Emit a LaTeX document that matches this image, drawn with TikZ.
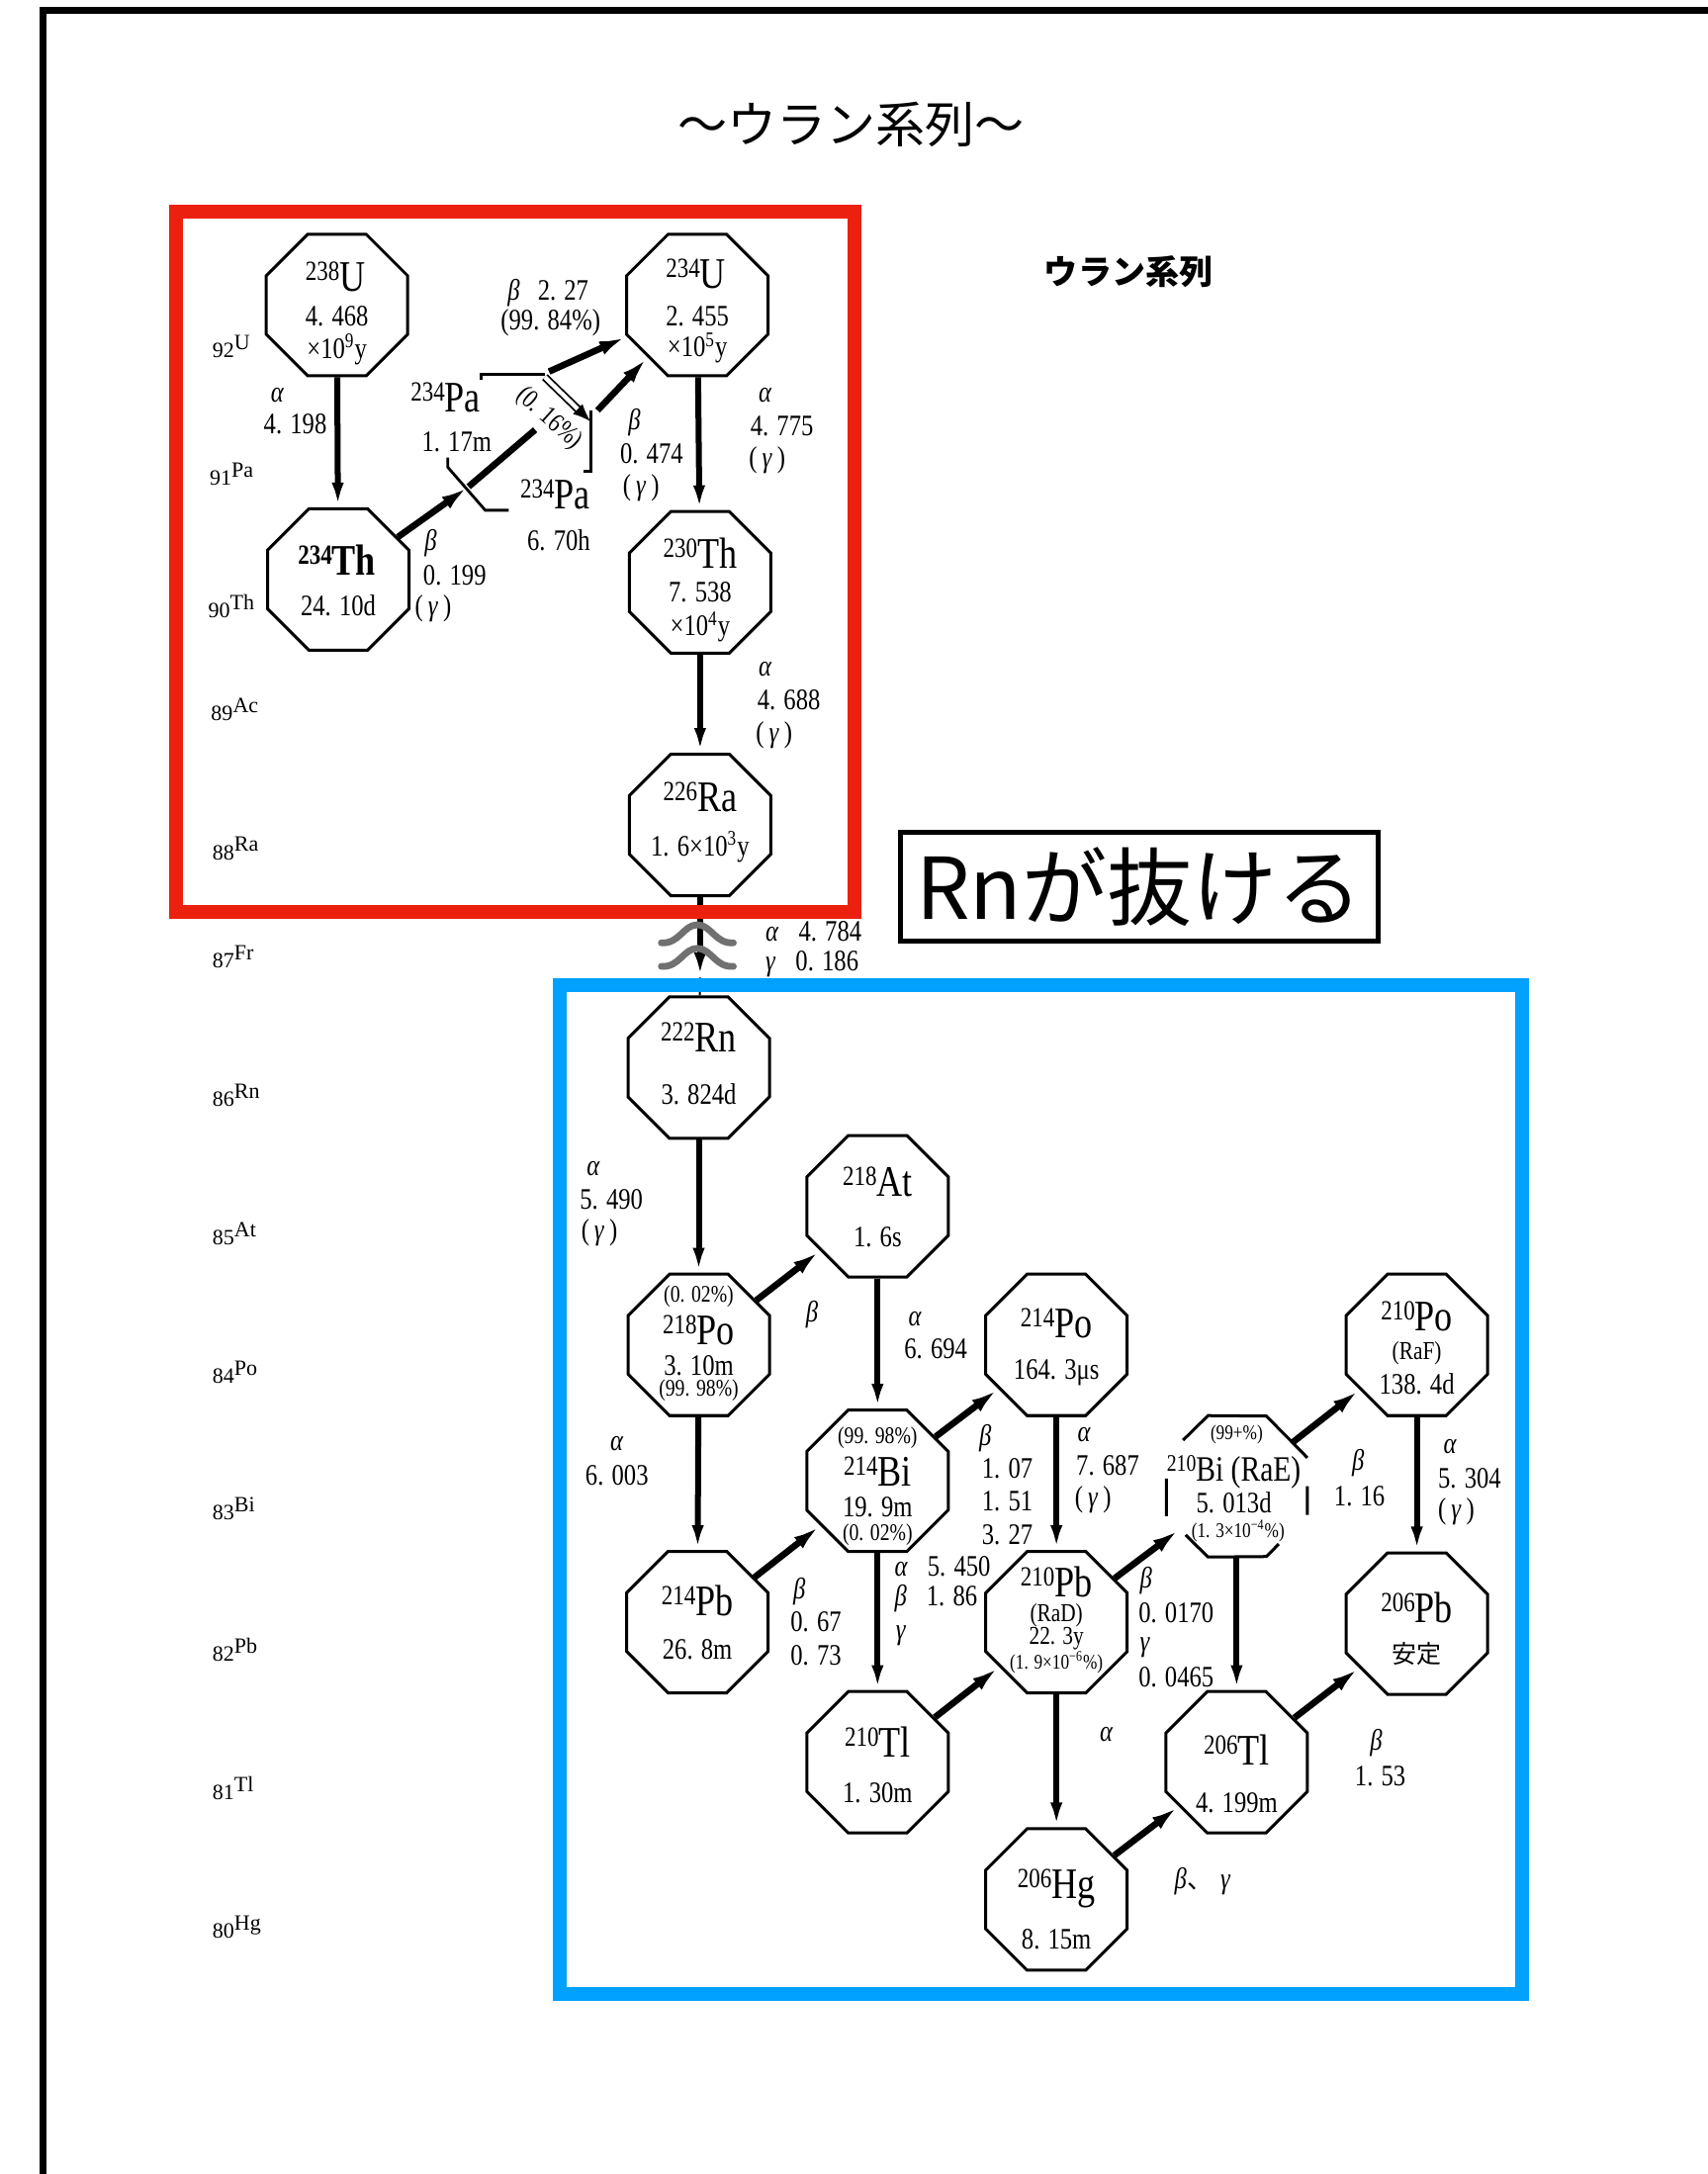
\documentclass[tikz,border=0pt]{standalone}
\usepackage{fontspec}
\setmainfont{Liberation Serif}[FakeStretch=0.82]
\newfontfamily\jp{Noto Sans CJK JP}
\newfontfamily\rowf{Liberation Serif}
\usetikzlibrary{shapes.geometric,arrows.meta,calc}
\definecolor{redbox}{RGB}{236,32,14}
\definecolor{bluebox}{RGB}{0,161,255}
\definecolor{wavegray}{RGB}{112,112,112}
\newcommand\isoA[2]{\raisebox{5.5pt}{\fontsize{14}{14}\selectfont #1}{\fontsize{22}{22}\selectfont #2}}
\newcommand\isoS[2]{\raisebox{5pt}{\fontsize{12}{12}\selectfont #1}{\fontsize{18}{18}\selectfont #2}}
\newcommand\rowlab[2]{{\rowf\fontsize{11}{11}\selectfont #1\raisebox{4pt}{#2}}}
\newcommand\lalpha{\textit{α}}
\newcommand\lbeta{\textit{β}}
\newcommand\lgamma{\textit{γ}}
\begin{document}
\begin{tikzpicture}[x=0.7pt,y=-0.7pt,
  oct/.style={regular polygon, regular polygon sides=8, minimum size=77.3pt, inner sep=0pt, draw, line width=1.5pt},
  octh/.style={regular polygon, regular polygon sides=8, minimum size=77.3pt, inner sep=0pt, outer sep=0pt},
  sym/.style={inner sep=0pt, anchor=base},
  num/.style={inner sep=0pt, font=\fontsize{15}{15}\selectfont},
  mid/.style={inner sep=0pt, font=\fontsize{13}{13}\selectfont},
  pct/.style={inner sep=0pt, font=\fontsize{12}{12}\selectfont},
  tinyt/.style={inner sep=0pt, font=\fontsize{10.5}{10.5}\selectfont},
  lab/.style={inner sep=0pt, anchor=west, font=\fontsize{15}{15}\selectfont},
  rowl/.style={inner sep=0pt, anchor=west},
  arr/.style={line width=3pt, -{Latex[length=12.5pt,width=6pt]}},
  darr/.style={line width=3.3pt, -{Latex[length=14pt,width=7pt]}},
  brk/.style={line width=1.4pt},
  dbl/.style={line width=0.9pt, double distance=2.2pt, -{Latex[length=9pt,width=7pt]}},
  wave/.style={wavegray, line width=3.4pt, line cap=round}]
\useasboundingbox (0,0) rectangle (1232,1568);
\fill[white] (0,0) rectangle (1232,1568);

% titles
\node (title) at (614,90) {\jp\fontsize{25}{25}\selectfont ～ウラン系列～};
\node (sub) at (814,196) {\jp\bfseries\fontsize{17}{17}\selectfont ウラン系列};

% row labels
\node[rowl] (z92) at (153,250) {\rowlab{92}{U}};
\node[rowl] (z91) at (151,342) {\rowlab{91}{Pa}};
\node[rowl] (z90) at (150,437) {\rowlab{90}{Th}};
\node[rowl] (z89) at (152,512) {\rowlab{89}{Ac}};
\node[rowl] (z88) at (153,612) {\rowlab{88}{Ra}};
\node[rowl] (z87) at (153,690) {\rowlab{87}{Fr}};
\node[rowl] (z86) at (153,790) {\rowlab{86}{Rn}};
\node[rowl] (z85) at (153,890) {\rowlab{85}{At}};
\node[rowl] (z84) at (153,990) {\rowlab{84}{Po}};
\node[rowl] (z83) at (153,1088) {\rowlab{83}{Bi}};
\node[rowl] (z82) at (153,1190) {\rowlab{82}{Pb}};
\node[rowl] (z81) at (153,1290) {\rowlab{81}{Tl}};
\node[rowl] (z80) at (153,1390) {\rowlab{80}{Hg}};

% octagons
\node[oct] (U238) at (243,220) {};
\node[oct] (U234) at (503,220) {};
\node[oct] (Th234) at (244,418) {};
\node[oct] (Th230) at (505,420) {};
\node[oct] (Ra226) at (505,595) {};
\node[oct] (Rn222) at (504,770) {};
\node[oct] (At218) at (633,870) {};
\node[oct] (Po218) at (504,970) {};
\node[oct] (Po214) at (762,970) {};
\node[oct] (Bi214) at (633,1068) {};
\node[oct] (Pb214) at (503,1170) {};
\node[oct] (Pb210) at (762,1170) {};
\node[oct] (Tl210) at (633,1271) {};
\node[oct] (Hg206) at (762,1370) {};
\node[octh] (Bi210) at (892,1072) {};
\node[oct] (Po210) at (1022,970) {};
\node[oct] (Pb206) at (1022,1171) {};
\node[oct] (Tl206) at (892,1271) {};

% partial outline of 210Bi
\draw[line width=1.5pt] ($(Bi210.112.5)!0.6!(Bi210.157.5)$) -- (Bi210.112.5) -- (Bi210.67.5) -- (Bi210.22.5);
\draw[line width=1.5pt] ($(Bi210.22.5)!0.5!(Bi210.-22.5)$) -- (Bi210.-22.5);
\draw[line width=1.5pt] ($(Bi210.-22.5)!0.7!(Bi210.-67.5)$) -- (Bi210.-67.5) -- (Bi210.-112.5) -- ($(Bi210.-112.5)!0.54!(Bi210.-157.5)$);
\draw[line width=1.5pt] ($(Bi210.157.5)!0.37!(Bi210.-157.5)$) -- (Bi210.-157.5);

% texts inside octagons
\node[sym] (U238s) at (242,210) {\isoA{238}{U}};
\node[num] (U238h) at (243,228) {4. 468};
\node[num] (U238e) at (243,252) {×10\textsuperscript{9}y};
\node[sym] (U234s) at (502,208) {\isoA{234}{U}};
\node[num] (U234h) at (503,228) {2. 455};
\node[num] (U234e) at (503,251) {×10\textsuperscript{5}y};
\node[sym] (Th234s) at (243,415) {\bfseries\isoA{234}{Th}};
\node[num] (Th234h) at (244,437) {24. 10d};
\node[sym] (Th230s) at (505,410) {\isoA{230}{Th}};
\node[num] (Th230h) at (505,427) {7. 538};
\node[num] (Th230e) at (505,452) {×10\textsuperscript{4}y};
\node[sym] (Ra226s) at (505,585) {\isoA{226}{Ra}};
\node[num] (Ra226h) at (505,611) {1. 6×10\textsuperscript{3}y};
\node[sym] (Rn222s) at (504,759) {\isoA{222}{Rn}};
\node[num] (Rn222h) at (504,789) {3. 824d};
\node[sym] (At218s) at (633,863) {\isoA{218}{At}};
\node[num] (At218h) at (633,892) {1. 6s};
\node[pct] (Po218a) at (504,935) {(0. 02\%)};
\node[sym] (Po218s) at (504,970) {\isoA{218}{Po}};
\node[num] (Po218h) at (504,985) {3. 10m};
\node[pct] (Po218b) at (504,1003) {(99. 98\%)};
\node[sym] (Po214s) at (762,965) {\isoA{214}{Po}};
\node[num] (Po214h) at (762,990) {164. 3μs};
\node[pct] (Bi214a) at (633,1037) {(99. 98\%)};
\node[sym] (Bi214s) at (633,1072) {\isoA{214}{Bi}};
\node[num] (Bi214h) at (633,1087) {19. 9m};
\node[pct] (Bi214b) at (633,1107) {(0. 02\%)};
\node[sym] (Pb214s) at (503,1165) {\isoA{214}{Pb}};
\node[num] (Pb214h) at (503,1190) {26. 8m};
\node[sym] (Pb210s) at (762,1152) {\isoA{210}{Pb}};
\node[mid] (Pb210a) at (762,1165) {(RaD)};
\node[mid] (Pb210h) at (762,1182) {22. 3y};
\node[tinyt] (Pb210b) at (762,1199) {(1. 9×10\textsuperscript{−6}\%)};
\node[sym] (Tl210s) at (633,1267) {\isoA{210}{Tl}};
\node[num] (Tl210h) at (633,1293) {1. 30m};
\node[sym] (Hg206s) at (762,1369) {\isoA{206}{Hg}};
\node[num] (Hg206h) at (762,1399) {8. 15m};
\node[tinyt] (Bi210a) at (892,1035) {(99+\%)};
\node[sym] (Bi210s) at (890,1068) {\isoS{210}{Bi (RaE)}};
\node[num] (Bi210h) at (890,1084) {5. 013d};
\node[tinyt] (Bi210b) at (893,1104) {(1. 3×10\textsuperscript{−4}\%)};
\node[sym] (Po210s) at (1022,960) {\isoA{210}{Po}};
\node[mid] (Po210a) at (1022,976) {(RaF)};
\node[num] (Po210h) at (1022,998) {138. 4d};
\node[sym] (Pb206s) at (1022,1170) {\isoA{206}{Pb}};
\node (Pb206h) at (1022,1193) {\jp\fontsize{12.5}{12.5}\selectfont 安定};
\node[sym] (Tl206s) at (892,1273) {\isoA{206}{Tl}};
\node[num] (Tl206h) at (892,1300) {4. 199m};

% protactinium branch
\node[sym, anchor=base west] (Pa1s) at (296,297) {\isoA{234}{Pa}};
\node[lab] (Pa1h) at (304,319) {1. 17m};
\node[sym, anchor=base west] (Pa2s) at (375,367) {\isoA{234}{Pa}};
\node[lab] (Pa2h) at (380,390) {6. 70h};
\coordinate (paX) at (338,351);
\coordinate (paE) at (386,310);
\draw[darr] (Th234) -- (paX);
\draw[line width=3.3pt] (paX) -- (paE);
\coordinate (ub1) at (347,274);
\coordinate (ub2) at (347,270);
\coordinate (ub3) at (393,270);
\draw[brk] (ub1) -- (ub2) -- (ub3);
\coordinate (paU) at (396,268);
\draw[darr] (paU) -- (U234);
\coordinate (dbA) at (393,272);
\coordinate (dbB) at (426,304);
\draw[dbl] (dbA) -- (dbB);
\coordinate (rb1) at (426,296);
\coordinate (rb2) at (426,340);
\coordinate (rb3) at (421,340);
\draw[brk] (rb1) -- (rb2) -- (rb3);
\coordinate (paV) at (431,296);
\draw[darr] (paV) -- (U234);
\coordinate (lb1) at (323,330);
\coordinate (lb2) at (323,337);
\coordinate (lb3) at (350,368);
\coordinate (lb4) at (367,368);
\draw[brk] (lb1) -- (lb2) -- (lb3) -- (lb4);
\node[inner sep=0pt, rotate=-42, font=\fontsize{13.5}{13.5}\selectfont] (p016) at (396,302) {(0. 16\%)};

% decay arrows
\draw[arr] (U238) -- (Th234);
\draw[arr] (U234) -- (Th230);
\draw[arr] (Th230) -- (Ra226);
\coordinate (RnIn) at (505,705);
\draw[arr] (Ra226) -- (RnIn);
\draw[line width=1pt] (RnIn) -- (Rn222);
\draw[arr] (Rn222) -- (Po218);
\draw[darr] (Po218) -- (At218);
\draw[arr] (At218) -- (Bi214);
\draw[arr] (Po218) -- (Pb214);
\draw[darr] (Pb214) -- (Bi214);
\draw[darr] (Bi214) -- (Po214);
\draw[arr] (Bi214) -- (Tl210);
\draw[arr] (Po214) -- (Pb210);
\draw[darr] (Tl210) -- (Pb210);
\draw[darr] (Pb210) -- (Bi210);
\draw[arr] (Pb210) -- (Hg206);
\draw[darr] (Hg206) -- (Tl206);
\draw[darr] (Bi210) -- (Po210);
\draw[arr] (Bi210) -- (Tl206);
\draw[arr] (Po210) -- (Pb206);
\draw[darr] (Tl206) -- (Pb206);

% arrow labels
\node[lab] (a1a) at (195,285) {\lalpha};
\node[lab] (a1b) at (190,306) {4. 198};
\node[lab] (b2a) at (366,211) {\lbeta\hspace{9pt}2. 27};
\node[lab] (b2b) at (361,233) {(99. 84\%)};
\node[lab] (b3a) at (453,305) {\lbeta};
\node[lab] (b3b) at (447,327) {0. 474};
\node[lab] (b3c) at (449,352) {(\,\lgamma\,)};
\node[lab] (a4a) at (547,285) {\lalpha};
\node[lab] (a4b) at (541,307) {4. 775};
\node[lab] (a4c) at (540,332) {(\,\lgamma\,)};
\node[lab] (b5a) at (306,392) {\lbeta};
\node[lab] (b5b) at (305,415) {0. 199};
\node[lab] (b5c) at (299,439) {(\,\lgamma\,)};
\node[lab] (a6a) at (547,483) {\lalpha};
\node[lab] (a6b) at (546,505) {4. 688};
\node[lab] (a6c) at (545,530) {(\,\lgamma\,)};
\node[lab] (a7a) at (552,672) {\lalpha\hspace{10pt}4. 784};
\node[lab] (a7b) at (552,695) {\lgamma\hspace{10pt}0. 186};
\node[lab] (a8a) at (423,843) {\lalpha};
\node[lab] (a8b) at (418,865) {5. 490};
\node[lab] (a8c) at (419,889) {(\,\lgamma\,)};
\node[lab] (b9) at (581,948) {\lbeta};
\node[lab] (a10a) at (655,951) {\lalpha};
\node[lab] (a10b) at (652,973) {6. 694};
\node[lab] (a11a) at (440,1041) {\lalpha};
\node[lab] (a11b) at (422,1064) {6. 003};
\node[lab] (b12a) at (706,1037) {\lbeta};
\node[lab] (b12b) at (708,1059) {1. 07};
\node[lab] (b12c) at (708,1083) {1. 51};
\node[lab] (b12d) at (708,1107) {3. 27};
\node[lab] (a13a) at (777,1035) {\lalpha};
\node[lab] (a13b) at (776,1057) {7. 687};
\node[lab] (a13c) at (775,1082) {(\,\lgamma\,)};
\node[lab] (b14a) at (975,1055) {\lbeta};
\node[lab] (b14b) at (962,1079) {1. 16};
\node[lab] (a15a) at (1041,1043) {\lalpha};
\node[lab] (a15b) at (1037,1066) {5. 304};
\node[lab] (a15c) at (1037,1090) {(\,\lgamma\,)};
\node[lab] (b16a) at (572,1148) {\lbeta};
\node[lab] (b16b) at (570,1170) {0. 67};
\node[lab] (b16c) at (570,1194) {0. 73};
\node[lab] (a17a) at (645,1130) {\lalpha\hspace{10pt}5. 450};
\node[lab] (a17b) at (645,1153) {\lbeta\hspace{10pt}1. 86};
\node[lab] (a17c) at (646,1180) {\lgamma};
\node[lab] (b18a) at (822,1140) {\lbeta};
\node[lab] (b18b) at (821,1163) {0. 0170};
\node[lab] (b18c) at (822,1188) {\lgamma};
\node[lab] (b18d) at (821,1210) {0. 0465};
\node[lab] (a19) at (793,1251) {\lalpha};
\node[lab] (b20a) at (988,1257) {\lbeta};
\node[lab] (b20b) at (977,1281) {1. 53};
\node[lab] (b21) at (847,1357) {\lbeta{\jp\fontsize{13}{13}\selectfont 、}\hspace{4pt}\lgamma};

% break symbol
\draw[wave] (477,680) .. controls (490,681) and (493,667) .. (503,667) .. controls (513,667) and (516,681) .. (529,680);
\draw[wave] (477,697) .. controls (490,698) and (493,684) .. (503,684) .. controls (513,684) and (516,698) .. (529,697);

% frames
\draw[line width=3.2pt] (31,1568) -- (31,7.5) -- (1232,7.5);
\draw[redbox, line width=7pt] (127,153) rectangle (616,658);
\draw[bluebox, line width=7pt] (403.5,710.5) rectangle (1098,1438);
\node[draw, line width=2.5pt, minimum width=241.2pt, minimum height=55.3pt, inner sep=0pt] (rnbox) at (821.75,639.5) {\jp\fontsize{43}{43}\selectfont Rnが抜ける};
\end{tikzpicture}
\end{document}
